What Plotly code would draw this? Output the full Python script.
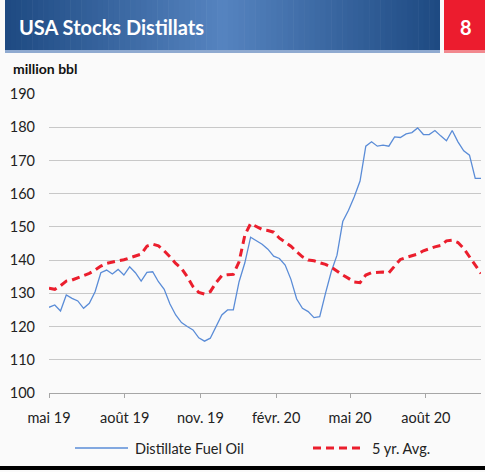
import plotly.graph_objects as go
import pandas as pd

# ---------------- data ----------------
start_date = "2019-05-03"
distillate = [125.8, 126.5, 124.7, 129.5, 128.5, 127.7, 125.5, 127.0, 130.5, 136.2,
              137.0, 135.8, 137.2, 135.5, 138.0, 136.2, 133.7, 136.3, 136.5, 133.5,
              131.2, 126.8, 123.5, 121.2, 120.0, 119.0, 116.6, 115.6, 116.5, 120.0,
              123.5, 125.0, 125.0, 133.5, 139.2, 146.9, 145.9, 144.8, 143.3, 141.2,
              140.5, 138.5, 134.2, 128.3, 125.5, 124.5, 122.7, 123.0, 130.0, 136.5,
              141.5, 151.6, 155.0, 159.1, 163.8, 174.3, 175.6, 174.3, 174.6, 174.3,
              177.1, 176.9, 178.0, 178.4, 179.8, 177.8, 177.8, 179.0, 177.4, 175.9,
              179.0, 175.6, 172.9, 171.6, 164.6, 164.6]
avg5 = [131.5, 131.2, 132.3, 133.7, 134.0, 134.7, 135.4, 136.0, 137.0, 138.2,
        139.0, 139.5, 139.8, 140.1, 140.6, 141.2, 141.8, 144.2, 144.8, 144.3,
        142.8, 141.0, 139.0, 137.5, 135.0, 132.0, 130.3, 129.8, 130.5, 133.2,
        135.3, 135.6, 135.7, 139.5, 147.5, 151.0, 150.0, 149.2, 148.9, 148.4,
        146.6, 145.3, 144.2, 142.5, 141.0, 140.0, 139.8, 139.2, 138.7, 137.9,
        136.6, 135.5, 134.5, 133.4, 133.2, 135.5, 136.2, 136.3, 136.4, 136.2,
        138.3, 140.2, 140.8, 141.3, 141.8, 142.8, 143.5, 144.0, 144.4, 145.8,
        146.0, 145.3, 143.5, 141.0, 138.5, 136.0]
series_names = ["Distillate Fuel Oil", "5 yr. Avg."]
tick_dates = ["2019-05-03", "2019-08-03", "2019-11-03", "2020-02-03", "2020-05-03", "2020-08-03"]
tick_labels = ["mai 19", "août 19", "nov. 19", "févr. 20", "mai 20", "août 20"]
y_ticks = [100, 110, 120, 130, 140, 150, 160, 170, 180, 190]
title_text = "USA Stocks Distillats"
page_number = "8"
unit_text = "million bbl"

dates = pd.date_range(start=start_date, periods=len(distillate), freq="7D")

# ---------------- geometry ----------------
W, H = 485, 472
L, R, T, B = 49, 4, 94, 79
PW, PH = W - L - R, H - T - B

def px(x):
    return (x - L) / PW

def py(y):
    return (H - B - y) / PH

BLUE = "#5A8CD7"
RED = "#EB1E2D"
FONT = "Lato, 'Open Sans', sans-serif"
TXT = 14.5
RED_DASH = "8px,5px"

fig = go.Figure()
fig.add_trace(go.Scatter(x=dates, y=distillate, mode="lines", name=series_names[0],
                         line=dict(color=BLUE, width=1.3), showlegend=False))
fig.add_trace(go.Scatter(x=dates, y=avg5, mode="lines", name=series_names[1],
                         line=dict(color=RED, width=3, dash=RED_DASH), showlegend=False))

shapes = []
# header gradient
c_edge = (30, 74, 130)
c_mid = (86, 132, 192)
x0h, x1h = 5, 440
n = 80
for i in range(n):
    a = x0h + (x1h - x0h) * i / n
    b = x0h + (x1h - x0h) * (i + 1) / n + 0.6
    t = (i + 0.5) / n
    f = 1 - abs(t - 0.5) * 2  # 0 at edges, 1 at middle
    col = tuple(int(c_edge[k] + (c_mid[k] - c_edge[k]) * f) for k in range(3))
    shapes.append(dict(type="rect", xref="paper", yref="paper",
                       x0=px(a), x1=px(min(b, x1h)), y0=py(50), y1=py(0),
                       fillcolor="rgb(%d,%d,%d)" % col, line=dict(width=0), layer="above"))
shapes.append(dict(type="rect", xref="paper", yref="paper", x0=px(5), x1=px(440),
                   y0=py(53), y1=py(50), fillcolor="#8FAAD0", line=dict(width=0)))
shapes.append(dict(type="rect", xref="paper", yref="paper", x0=px(444), x1=px(486),
                   y0=py(50), y1=py(0), fillcolor="#EC1C2E", line=dict(width=0)))
shapes.append(dict(type="rect", xref="paper", yref="paper", x0=px(444), x1=px(486),
                   y0=py(53), y1=py(50), fillcolor="#F2888E", line=dict(width=0)))
# bottom black rule
shapes.append(dict(type="rect", xref="paper", yref="paper", x0=px(0), x1=px(486),
                   y0=py(470), y1=py(466), fillcolor="#000000", line=dict(width=0)))
# legend samples
shapes.append(dict(type="line", xref="paper", yref="paper", x0=px(75), x1=px(128),
                   y0=py(448), y1=py(448), line=dict(color=BLUE, width=1.3)))
shapes.append(dict(type="line", xref="paper", yref="paper", x0=px(313), x1=px(360),
                   y0=py(448), y1=py(448), line=dict(color=RED, width=3, dash=RED_DASH)))

annotations = [
    dict(text="<b>%s</b>" % title_text, xref="paper", yref="paper", x=px(17), y=py(27),
         xanchor="left", yanchor="middle", showarrow=False,
         font=dict(family=FONT, size=20, color="white")),
    dict(text="<b>%s</b>" % page_number, xref="paper", yref="paper", x=px(466), y=py(27),
         xanchor="center", yanchor="middle", showarrow=False,
         font=dict(family=FONT, size=20, color="white")),
    dict(text="<b>%s</b>" % unit_text, xref="paper", yref="paper", x=px(11), y=py(68),
         xanchor="left", yanchor="middle", showarrow=False,
         font=dict(family=FONT, size=14, color="#111111")),
    dict(text=series_names[0], xref="paper", yref="paper", x=px(133), y=py(448),
         xanchor="left", yanchor="middle", showarrow=False,
         font=dict(family=FONT, size=TXT, color="#222222")),
    dict(text=series_names[1], xref="paper", yref="paper", x=px(370), y=py(448),
         xanchor="left", yanchor="middle", showarrow=False,
         font=dict(family=FONT, size=TXT, color="#222222")),
]

fig.update_layout(
    width=W, height=H,
    margin=dict(l=L, r=R, t=T, b=B, pad=0),
    paper_bgcolor="#FAFAFA", plot_bgcolor="#FAFAFA",
    shapes=shapes, annotations=annotations,
    font=dict(family=FONT, size=TXT, color="#222222"),
    xaxis=dict(type="date", range=[dates[0], dates[-1]],
               tickmode="array", tickvals=tick_dates, ticktext=tick_labels,
               showgrid=False, showline=True, linecolor="#A6A6A6", linewidth=1,
               ticks="outside", ticklen=4, tickcolor="#A6A6A6", tickwidth=1,
               ticklabelstandoff=8, tickfont=dict(size=TXT, color="#222222"),
               zeroline=False),
    yaxis=dict(range=[100, 190], tickmode="array", tickvals=y_ticks,
               showgrid=True, gridcolor="#C8C8C8", gridwidth=1.3,
               showline=False, zeroline=False, ticks="",
               ticklabelstandoff=13, tickfont=dict(size=TXT, color="#222222")),
)

fig.write_html("out.html", config={"displayModeBar": False},
               post_script="document.body.style.margin='0';document.body.style.background='#FAFAFA';")
